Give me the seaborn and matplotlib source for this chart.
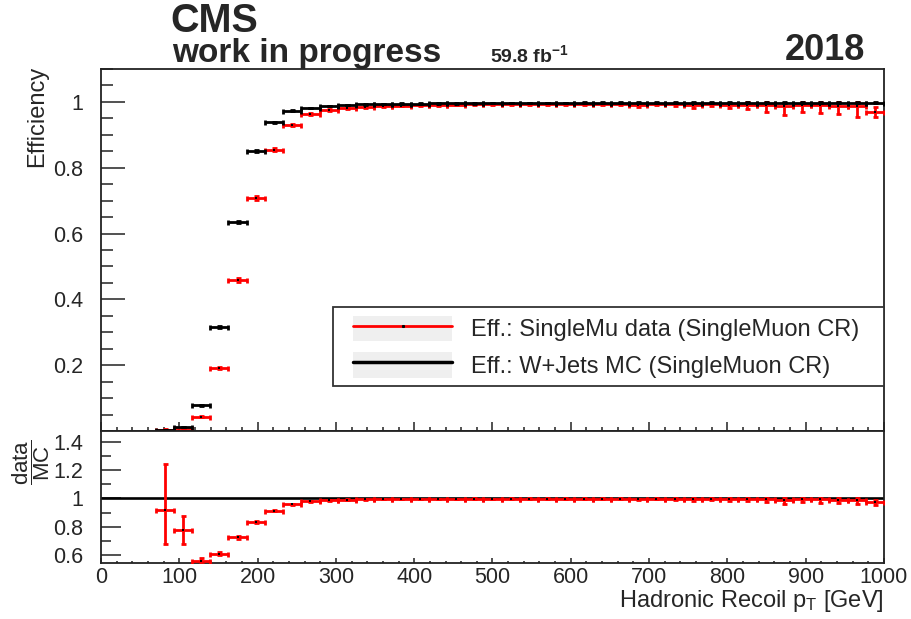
import numpy as np
import pandas as pd
import matplotlib
matplotlib.use("Agg")
import matplotlib.pyplot as plt
from matplotlib.patches import Patch
from matplotlib.lines import Line2D
from matplotlib.legend_handler import HandlerTuple
from matplotlib.ticker import MultipleLocator, FuncFormatter
import seaborn as sns

# Hadronic recoil binning (GeV): 43 equal bins between 0 and 1000
bin_edges = np.linspace(0, 1000, 44)
first_bin = 3  # bins below this one have no entries

# Trigger efficiency of W+Jets simulation, per filled bin
eff_mc = [0.004, 0.012, 0.078, 0.315, 0.634, 0.850, 0.938, 0.973, 0.981, 0.988,
          0.991, 0.993, 0.994, 0.995, 0.995, 0.996, 0.996, 0.996, 0.997, 0.997,
          0.997, 0.997, 0.997, 0.998, 0.998, 0.998, 0.998, 0.998, 0.998, 0.998,
          0.998, 0.998, 0.998, 0.998, 0.998, 0.998, 0.998, 0.998, 0.998, 0.998]
eff_mc_err = [0.0004, 0.001, 0.002, 0.003, 0.003, 0.003, 0.002, 0.002, 0.001, 0.001,
              0.001, 0.001, 0.001, 0.001, 0.001, 0.001, 0.001, 0.001, 0.001, 0.001,
              0.001, 0.001, 0.001, 0.001, 0.001, 0.001, 0.001, 0.001, 0.001, 0.001,
              0.001, 0.001, 0.001, 0.001, 0.001, 0.001, 0.001, 0.001, 0.001, 0.001]

# Trigger efficiency measured in SingleMuon data
eff_data = [0.00366, 0.0093, 0.0435, 0.192, 0.459, 0.708, 0.855, 0.931, 0.962, 0.976,
            0.981, 0.985, 0.988, 0.989, 0.990, 0.991, 0.992, 0.993, 0.993, 0.994,
            0.994, 0.994, 0.995, 0.994, 0.995, 0.995, 0.990, 0.995, 0.994, 0.990,
            0.994, 0.991, 0.991, 0.990, 0.987, 0.992, 0.990, 0.989, 0.988, 0.970]
eff_data_err_lo = [0.00096, 0.0012, 0.0018, 0.003, 0.005, 0.005, 0.004, 0.003, 0.003, 0.003,
                   0.002, 0.002, 0.002, 0.002, 0.002, 0.002, 0.002, 0.002, 0.003, 0.003,
                   0.003, 0.003, 0.003, 0.004, 0.004, 0.004, 0.006, 0.004, 0.005, 0.010,
                   0.005, 0.011, 0.014, 0.020, 0.027, 0.022, 0.023, 0.026, 0.033, 0.016]
eff_data_err_hi = [0.00132, 0.0012, 0.0018, 0.003, 0.005, 0.005, 0.004, 0.003, 0.003, 0.002,
                   0.002, 0.002, 0.002, 0.002, 0.002, 0.002, 0.002, 0.002, 0.002, 0.002,
                   0.002, 0.002, 0.002, 0.003, 0.003, 0.003, 0.005, 0.003, 0.004, 0.008,
                   0.004, 0.007, 0.008, 0.009, 0.011, 0.008, 0.009, 0.010, 0.011, 0.016]

label_data = "Eff.: SingleMu data (SingleMuon CR)"
label_mc = "Eff.: W+Jets MC (SingleMuon CR)"
x_ticks = [0, 100, 200, 300, 400, 500, 600, 700, 800, 900, 1000]
eff_ticks = [0.2, 0.4, 0.6, 0.8, 1.0]
ratio_ticks = [0.6, 0.8, 1.0, 1.2, 1.4]

# ---------------------------------------------------------------------------
lo_edges = bin_edges[first_bin:-1]
hi_edges = bin_edges[first_bin + 1:]
df = pd.DataFrame({
    "x": 0.5 * (lo_edges + hi_edges),
    "half_w": 0.5 * (hi_edges - lo_edges),
    "eff_mc": eff_mc,
    "eff_mc_err": eff_mc_err,
    "eff_data": eff_data,
    "err_lo": eff_data_err_lo,
    "err_hi": eff_data_err_hi,
})
df["ratio"] = df["eff_data"] / df["eff_mc"]
df["ratio_lo"] = df["err_lo"] / df["eff_mc"]
df["ratio_hi"] = df["err_hi"] / df["eff_mc"]

sns.set_theme(style="ticks")
plt.rcParams["font.family"] = ["Liberation Sans", "DejaVu Sans"]
plt.rcParams["mathtext.fontset"] = "custom"
plt.rcParams["mathtext.rm"] = "Liberation Sans"
plt.rcParams["mathtext.it"] = "Liberation Sans:italic"
plt.rcParams["mathtext.bf"] = "Liberation Sans:bold"

W, H = 911, 619
fig = plt.figure(figsize=(W / 100, H / 100), dpi=100)
fig.patch.set_facecolor("white")

def frac_box(x0, y_top, x1, y_bot):
    return [x0 / W, 1 - y_bot / H, (x1 - x0) / W, (y_bot - y_top) / H]

ax = fig.add_axes(frac_box(101, 69, 884, 431))
axr = fig.add_axes(frac_box(101, 431, 884, 563.3))

err_style = dict(fmt="none", elinewidth=2.0, capsize=1.8, capthick=2.0)

# --- efficiency panel -------------------------------------------------------
ax.errorbar(df["x"], df["eff_data"], xerr=df["half_w"],
            yerr=[df["err_lo"], df["err_hi"]], ecolor="#ff0000", zorder=3, **err_style)
ax.errorbar(df["x"], df["eff_mc"], xerr=df["half_w"], yerr=df["eff_mc_err"],
            ecolor="black", zorder=4, **err_style)
sns.scatterplot(data=df, x="x", y="eff_data", ax=ax, color="black", marker="s",
                s=2, linewidth=0, zorder=5, legend=False)
sns.scatterplot(data=df, x="x", y="eff_mc", ax=ax, color="black", marker="s",
                s=2, linewidth=0, zorder=5, legend=False)

ax.set_xlim(0, 1000)
ax.set_ylim(0, 1.1)
ax.set_xticks(x_ticks)
ax.xaxis.set_minor_locator(MultipleLocator(20))
ax.set_yticks(eff_ticks)
ax.yaxis.set_minor_locator(MultipleLocator(0.05))
ax.tick_params(axis="x", which="both", direction="in", labelbottom=False, width=1.1, color="#222222")
ax.tick_params(axis="x", which="major", length=6.5)
ax.tick_params(axis="x", which="minor", length=3.2)
ax.tick_params(axis="y", which="both", direction="in", width=1.1, color="#222222",
               labelsize=15.5, pad=13)
ax.tick_params(axis="y", which="major", length=17)
ax.tick_params(axis="y", which="minor", length=8.6)
fmt = FuncFormatter(lambda v, _: f"{v:g}")
ax.yaxis.set_major_formatter(fmt)
ax.set_xlabel("")
ax.set_ylabel("Efficiency", fontsize=17, loc="top")
ax.yaxis.set_label_coords(-0.068, 1.01)

handles = [
    (Patch(facecolor="#efefef", edgecolor="none"),
     Line2D([], [], color="#ff0000", lw=2, marker="s", markersize=1.2,
            markerfacecolor="black", markeredgecolor="black")),
    (Patch(facecolor="#efefef", edgecolor="none"),
     Line2D([], [], color="black", lw=2.5)),
]
leg = ax.legend(handles, [label_data, label_mc], loc="lower left",
                bbox_to_anchor=((333 - 101) / 783, (431 - 386) / 362, (884 - 333) / 783, 0.1),
                mode="expand", fontsize=17, frameon=True, fancybox=False, shadow=False,
                handlelength=4.7, handleheight=1.3, handletextpad=0.8,
                labelspacing=0.45, borderpad=0.35, borderaxespad=0,
                handler_map={tuple: HandlerTuple(ndivide=1, xpad=0.5)})
leg.get_frame().set_edgecolor("#333333")
leg.get_frame().set_linewidth(1.3)
leg.get_frame().set_alpha(1)

# --- ratio panel ------------------------------------------------------------
axr.axhline(1.0, color="black", lw=1.9, zorder=2)
axr.errorbar(df["x"], df["ratio"], xerr=df["half_w"],
             yerr=[df["ratio_lo"], df["ratio_hi"]], ecolor="#ff0000", zorder=3, **err_style)
sns.scatterplot(data=df, x="x", y="ratio", ax=axr, color="black", marker="s",
                s=2, linewidth=0, zorder=5, legend=False)
axr.set_xlim(0, 1000)
axr.set_ylim(0.541, 1.476)
axr.set_xticks(x_ticks)
axr.xaxis.set_minor_locator(MultipleLocator(20))
axr.set_yticks(ratio_ticks)
axr.yaxis.set_minor_locator(MultipleLocator(0.1))
axr.yaxis.set_major_formatter(fmt)
axr.tick_params(axis="x", which="both", direction="in", width=1.1, color="#222222",
                labelsize=15.5, pad=3)
axr.tick_params(axis="x", which="major", length=3.6)
axr.tick_params(axis="x", which="minor", length=1.8)
axr.tick_params(axis="y", which="both", direction="in", width=1.1, color="#222222",
                labelsize=15.5, pad=13)
axr.tick_params(axis="y", which="major", length=14.4)
axr.tick_params(axis="y", which="minor", length=7.2)
axr.set_xlabel(r"Hadronic Recoil p$_{\mathrm{T}}$ [GeV]", fontsize=17, loc="right")
axr.xaxis.set_label_coords(1.0, -0.19)
axr.set_ylabel("")
fig.text(31 / W, 1 - 462 / H, r"$\dfrac{\mathrm{data}}{\mathrm{MC}}$", fontsize=16,
         rotation=90, ha="center", va="center")

for a in (ax, axr):
    for s in a.spines.values():
        s.set_linewidth(1.3)
        s.set_color("#222222")

# --- header -----------------------------------------------------------------
fig.text(170 / W, 1 - 32 / H, "CMS", fontsize=28.5, fontweight="bold", va="baseline", ha="left")
fig.text(172 / W, 1 - 62 / H, "work in progress", fontsize=24, fontweight="bold",
         va="baseline", ha="left")
fig.text(490 / W, 1 - 62 / H, r"59.8 fb$^{\mathbf{-1}}$", fontsize=14, fontweight="bold",
         va="baseline", ha="left")
fig.text(865 / W, 1 - 60 / H, "2018", fontsize=26, fontweight="bold", va="baseline", ha="right")

fig.savefig("out.png", dpi=100, facecolor="white")
